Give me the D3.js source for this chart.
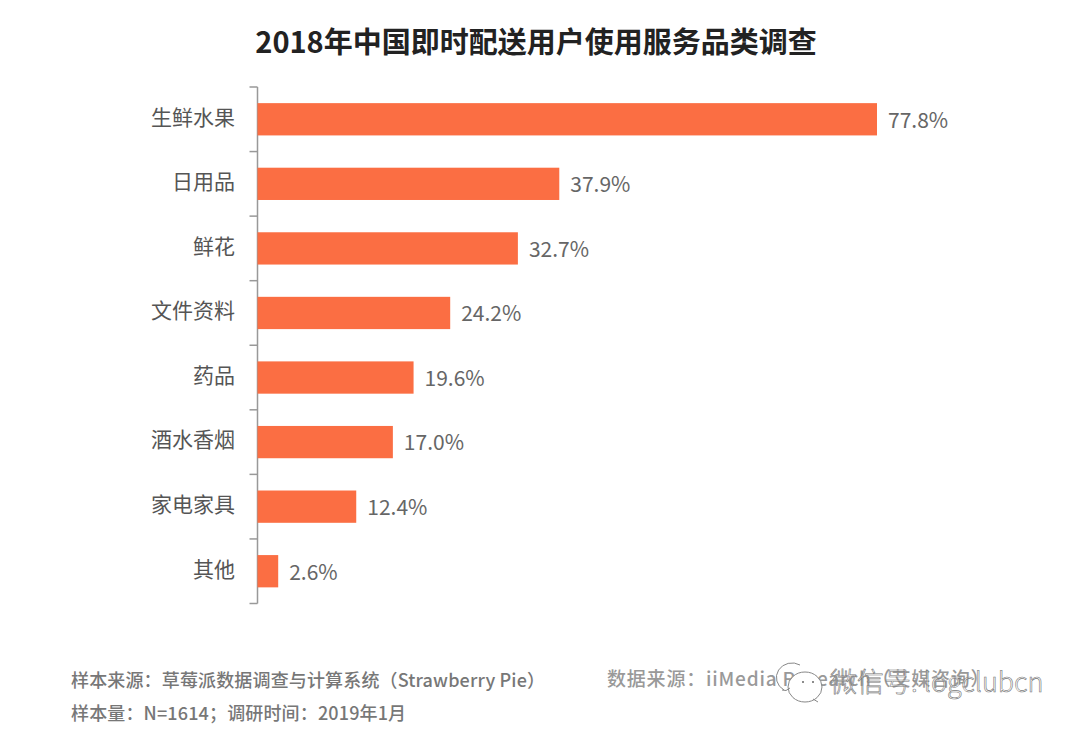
<!DOCTYPE html>
<html>
<head>
<meta charset="utf-8">
<script src="https://cdn.jsdelivr.net/npm/d3@7"></script>
<style>
body { margin: 0; background: #fff; }
text { font-family: "Noto Sans CJK SC", "Noto Sans", sans-serif; }
</style>
</head>
<body>
<svg id="canvas" width="1080" height="733"></svg>
<script>
const categories = ["生鲜水果", "日用品", "鲜花", "文件资料", "药品", "酒水香烟", "家电家具", "其他"];
const shares = [77.8, 37.9, 32.7, 24.2, 19.6, 17.0, 12.4, 2.6];
const title = "2018年中国即时配送用户使用服务品类调查";
const notes = ["样本来源：草莓派数据调查与计算系统（Strawberry Pie）", "样本量：N=1614；调研时间：2019年1月"];
const source = "数据来源：iiMedia Research（艾媒咨询）";
const watermark = "微信号: logclubcn";

const svg = d3.select("svg#canvas");

const x = d3.scaleLinear().domain([0, 77.8]).range([257.5, 877]);
const y = d3.scaleBand().domain(categories).range([87, 603.5]).paddingInner(0.5).paddingOuter(0.25);

svg.append("text")
    .attr("x", 536).attr("y", 53)
    .attr("text-anchor", "middle")
    .attr("font-size", 29).attr("font-weight", 700)
    .attr("fill", "#222")
    .text(title);

// ticks on the band edges, so one more than the categories
const edge = i => y.range()[0] + i * y.step();
const axis = svg.append("g").attr("transform", "translate(257.5,0)");
axis.append("line")
    .attr("y1", y.range()[0]).attr("y2", y.range()[1])
    .attr("stroke", "#999").attr("stroke-width", 1.5);
axis.selectAll("line.tick")
    .data(d3.range(categories.length + 1))
    .join("line")
    .attr("class", "tick")
    .attr("x1", -8).attr("x2", 0)
    .attr("y1", edge)
    .attr("y2", edge)
    .attr("stroke", "#999").attr("stroke-width", 1.5);

svg.selectAll("text.cat")
    .data(categories)
    .join("text")
    .attr("class", "cat")
    .attr("x", 235)
    .attr("y", d => y(d) + y.bandwidth() / 2 - 2)
    .attr("dy", "0.35em")
    .attr("text-anchor", "end")
    .attr("font-size", 21)
    .attr("fill", "#555")
    .text(d => d);

svg.selectAll("rect.bar")
    .data(shares)
    .join("rect")
    .attr("class", "bar")
    .attr("x", x(0))
    .attr("y", (_, i) => y(categories[i]))
    .attr("width", d => x(d) - x(0))
    .attr("height", y.bandwidth())
    .attr("fill", "#fb6e43");

svg.selectAll("text.val")
    .data(shares)
    .join("text")
    .attr("class", "val")
    .attr("x", d => x(d) + 11)
    .attr("y", (_, i) => y(categories[i]) + y.bandwidth() / 2 + 1)
    .attr("dy", "0.35em")
    .attr("font-size", 21)
    .attr("fill", "#666")
    .text(d => d.toFixed(1) + "%");

svg.selectAll("text.note")
    .data(notes)
    .join("text")
    .attr("class", "note")
    .attr("x", 71)
    .attr("y", (_, i) => 687 + i * 33)
    .attr("font-size", 18).attr("font-weight", 500)
    .attr("letter-spacing", 0.15)
    .attr("fill", "#777")
    .text(d => d);

svg.append("text")
    .attr("x", 607).attr("y", 686)
    .attr("font-size", 19).attr("font-weight", 500)
    .attr("letter-spacing", 0.8)
    .attr("fill", "#999")
    .text(source);

// wechat watermark stamped over the source line
const mark = svg.append("g").attr("fill", "none").attr("stroke", "#888").attr("stroke-width", 1);
mark.append("path").attr("d", "M784 690 A15 14 0 0 1 800 665");
mark.append("ellipse").attr("cx", 805).attr("cy", 687).attr("rx", 17).attr("ry", 15)
    .attr("fill", "#fff");
mark.append("path").attr("d", "M782 690 Q786 692 790 688 M813 699 L818 702");
mark.selectAll("circle")
    .data([803, 813])
    .join("circle")
    .attr("cx", d => d).attr("cy", 682).attr("r", 1)
    .attr("fill", "#666").attr("stroke", "none");
mark.append("text")
    .attr("x", 830).attr("y", 692)
    .attr("font-size", 27).attr("font-weight", 300)
    .attr("fill", "#fff").attr("fill-opacity", 0.45)
    .attr("stroke", "#777").attr("stroke-width", 0.6)
    .text(watermark);
</script>
</body>
</html>
